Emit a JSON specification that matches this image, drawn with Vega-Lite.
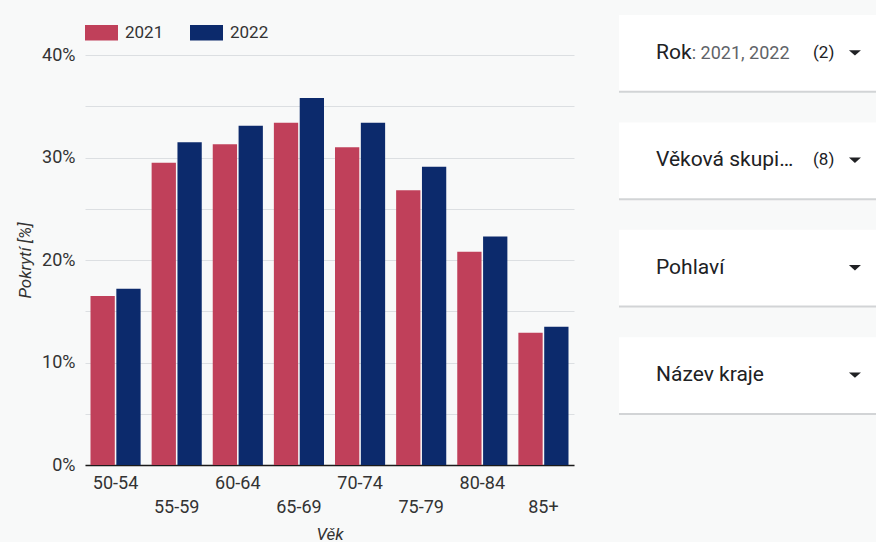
{
  "$schema": "https://vega.github.io/schema/vega-lite/v6.json",
  "background": "#f8f9f9",
  "padding": {"left": 16, "top": 15, "right": 0, "bottom": 0},
  "spacing": 45,
  "config": {"font": "Roboto", "view": {"stroke": null}},
  "resolve": {"scale": {"color": "independent"}, "legend": {"color": "independent"}},
  "datasets": {
    "bars": [
      {"vek": "50-54", "rok": "2021", "pokryti": 16.5},
      {"vek": "50-54", "rok": "2022", "pokryti": 17.2},
      {"vek": "55-59", "rok": "2021", "pokryti": 29.5},
      {"vek": "55-59", "rok": "2022", "pokryti": 31.5},
      {"vek": "60-64", "rok": "2021", "pokryti": 31.3},
      {"vek": "60-64", "rok": "2022", "pokryti": 33.1},
      {"vek": "65-69", "rok": "2021", "pokryti": 33.4},
      {"vek": "65-69", "rok": "2022", "pokryti": 35.8},
      {"vek": "70-74", "rok": "2021", "pokryti": 31.0},
      {"vek": "70-74", "rok": "2022", "pokryti": 33.4},
      {"vek": "75-79", "rok": "2021", "pokryti": 26.8},
      {"vek": "75-79", "rok": "2022", "pokryti": 29.1},
      {"vek": "80-84", "rok": "2021", "pokryti": 20.8},
      {"vek": "80-84", "rok": "2022", "pokryti": 22.3},
      {"vek": "85+", "rok": "2021", "pokryti": 12.9},
      {"vek": "85+", "rok": "2022", "pokryti": 13.5}
    ],
    "controls": [
      {"control": "Rok", "label": "Rok", "detail": ": 2021, 2022", "count": "(2)"},
      {"control": "Věková skupina", "label": "Věková skupi…", "detail": "", "count": "(8)"},
      {"control": "Pohlaví", "label": "Pohlaví", "detail": "", "count": ""},
      {"control": "Název kraje", "label": "Název kraje", "detail": "", "count": ""}
    ]
  },
  "hconcat": [
    {
      "width": 489,
      "height": 410,
      "data": {"name": "bars"},
      "mark": {"type": "bar"},
      "encoding": {
        "x": {
          "field": "vek",
          "type": "nominal",
          "sort": null,
          "title": "Věk",
          "scale": {"paddingInner": 0.18, "paddingOuter": 0.09},
          "axis": {
            "labelAngle": 0,
            "ticks": false,
            "domain": true,
            "domainColor": "#1a1a1a",
            "domainWidth": 1.5,
            "labelFontSize": 18,
            "labelColor": "#333333",
            "labelPadding": 9,
            "labelLineHeight": 24,
            "labelBaseline": "top",
            "labelExpr": "indexof(['55-59','65-69','75-79','85+'], datum.value) >= 0 ? ['', datum.label] : datum.label",
            "titleFontSize": 17,
            "titleFontStyle": "italic",
            "titleFontWeight": "normal",
            "titleColor": "#333333",
            "titlePadding": 10
          }
        },
        "xOffset": {"field": "rok", "type": "nominal", "scale": {"paddingInner": 0.06}},
        "y": {
          "field": "pokryti",
          "type": "quantitative",
          "title": "Pokrytí [%]",
          "scale": {"domain": [0, 40]},
          "axis": {
            "values": [0, 5, 10, 15, 20, 25, 30, 35, 40],
            "labelExpr": "datum.value % 10 === 0 ? datum.value + '%' : ''",
            "ticks": false,
            "domain": false,
            "gridColor": "#dcdfe2",
            "gridWidth": 1,
            "labelFontSize": 18,
            "labelColor": "#333333",
            "labelPadding": 10,
            "titleFontSize": 17,
            "titleFontStyle": "italic",
            "titleFontWeight": "normal",
            "titleColor": "#333333",
            "titlePadding": 7
          }
        },
        "color": {
          "field": "rok",
          "type": "nominal",
          "scale": {"domain": ["2021", "2022"], "range": ["#c0405a", "#0c2a6c"]},
          "legend": {
            "title": null,
            "orient": "top",
            "direction": "horizontal",
            "padding": 0,
            "offset": 14,
            "symbolType": "M-1,-0.47H1V0.47H-1Z",
            "symbolSize": 1089,
            "symbolStrokeWidth": 0,
            "labelFontSize": 17,
            "labelColor": "#333333",
            "labelOffset": 7,
            "columnPadding": 26
          }
        }
      }
    },
    {
      "width": 257,
      "height": 398,
      "data": {"name": "controls"},
      "encoding": {
        "y": {
          "field": "control",
          "type": "nominal",
          "sort": null,
          "scale": {"paddingInner": 0.294, "paddingOuter": 0},
          "axis": null
        }
      },
      "layer": [
        {
          "mark": {"type": "rect", "fill": "#d2d4d6", "yOffset": -38, "height": {"band": 1}},
          "encoding": {
            "x": {"datum": 0, "type": "quantitative", "scale": {"domain": [0, 100]}, "axis": null},
            "x2": {"datum": 100}
          }
        },
        {
          "mark": {"type": "rect", "fill": "#ffffff", "yOffset": -40, "height": {"band": 1}},
          "encoding": {
            "x": {"datum": 0, "type": "quantitative"},
            "x2": {"datum": 100}
          }
        },
        {
          "mark": {"type": "text", "align": "left", "baseline": "middle", "fontSize": 21, "color": "#202124", "yOffset": -40},
          "encoding": {
            "x": {"datum": 14.4, "type": "quantitative"},
            "text": {"field": "label"}
          }
        },
        {
          "transform": [{"filter": "datum.detail != ''"}],
          "mark": {"type": "text", "align": "left", "baseline": "middle", "fontSize": 18, "color": "#5f6368", "yOffset": -39},
          "encoding": {
            "x": {"datum": 28.3, "type": "quantitative"},
            "text": {"field": "detail"}
          }
        },
        {
          "transform": [{"filter": "datum.count != ''"}],
          "mark": {"type": "text", "align": "left", "baseline": "middle", "fontSize": 17, "color": "#202124", "yOffset": -40},
          "encoding": {
            "x": {"datum": 75.5, "type": "quantitative"},
            "text": {"field": "count"}
          }
        },
        {
          "mark": {"type": "point", "shape": "M-1,-0.45L1,-0.45L0,0.45Z", "size": 144, "filled": true, "color": "#202124", "opacity": 1, "yOffset": -40},
          "encoding": {
            "x": {"datum": 91.8, "type": "quantitative"}
          }
        }
      ]
    }
  ]
}
